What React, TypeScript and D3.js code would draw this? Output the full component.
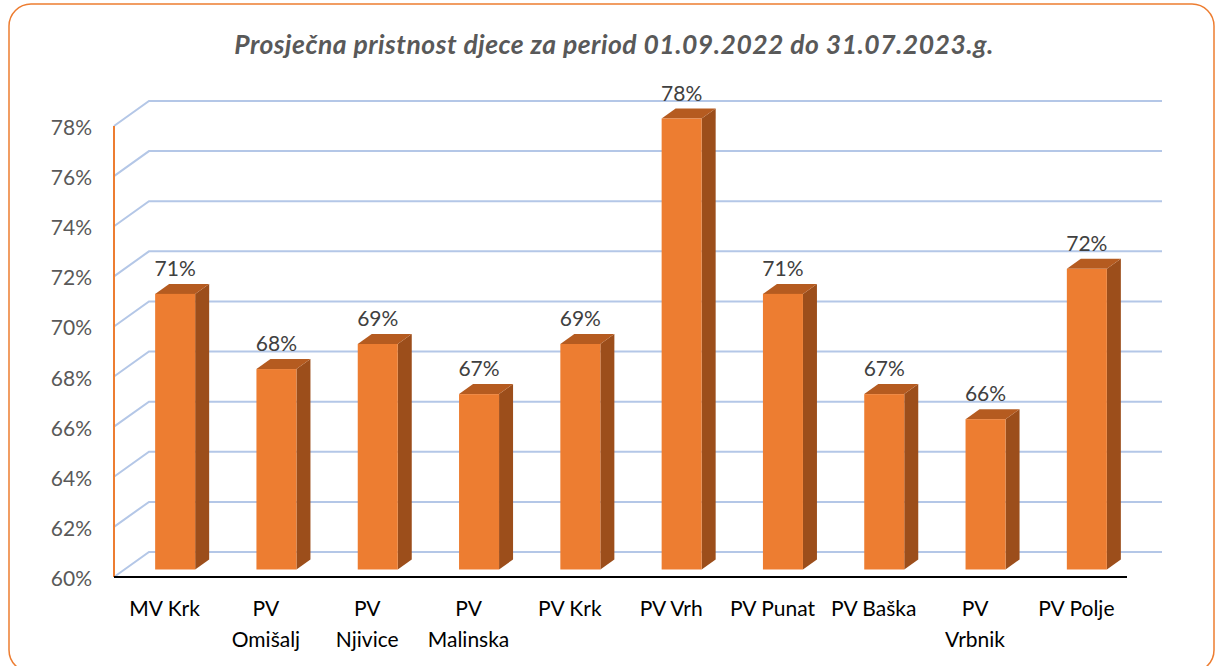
import React from 'react';
import * as d3 from 'd3';

const categories = ['MV Krk', 'PV Omišalj', 'PV Njivice', 'PV Malinska', 'PV Krk', 'PV Vrh', 'PV Punat', 'PV Baška', 'PV Vrbnik', 'PV Polje'];
const values = [71, 68, 69, 67, 69, 78, 71, 67, 66, 72];
const ticks = [60, 62, 64, 66, 68, 70, 72, 74, 76, 78];
const title = 'Prosječna pristnost djece za period 01.09.2022 do 31.07.2023.g.';

const W = 1215;
const H = 666;
const FONT = 'Lato, "Open Sans", sans-serif';

// front plane of the 3d box
const left = 114;
const right = 1127;
const bottom = 577;
const top = 126;
// depth of the back wall
const DX = 35;
const DY = -25;
// bar sits between 30% and 70% of the depth
const bx = DX * 0.3;
const by = DY * 0.3;
const bdx = DX * 0.4;
const bdy = DY * 0.4;

const App = () => {
  const x = d3.scaleBand<string>()
    .domain(categories)
    .range([left, right])
    .paddingInner(0.605)
    .paddingOuter(0.3025);

  const y = d3.scaleLinear()
    .domain([60, 78])
    .range([bottom, top]);

  const bw = x.bandwidth();
  const fmt = (v: number) => `${v}%`;

  const lines = (name: string) => name.length > 8 ? name.split(' ') : [name];

  return (
    <svg width={W} height={H} style={{ position: 'absolute', left: 0, top: 0, background: '#fff' }}>
      <rect x={9} y={4} width={1205} height={668} rx={22} ry={22} fill="#fff" stroke="#ED7D31" strokeWidth={1.5} />

      <text x={614} y={54} textAnchor="middle" fontFamily={FONT} fontSize={26.5} fontWeight="bold" fontStyle="italic" letterSpacing={0.5} fill="#595959">
        {title}
      </text>

      {/* back wall gridlines */}
      <g fill="none" stroke="#B4C7E7" strokeWidth={2}>
        {ticks.map(t => (
          <polyline key={t} points={`${left},${y(t)} ${left + DX},${y(t) + DY} ${right + DX},${y(t) + DY}`} />
        ))}
      </g>

      <line x1={left} x2={left} y1={y(78)} y2={y(60)} stroke="#ED7D31" strokeWidth={2} />

      <g fontFamily={FONT} fontSize={21} fill="#595959" textAnchor="end">
        {ticks.map(t => (
          <text key={t} x={92} y={y(t) + 9}>{fmt(t)}</text>
        ))}
      </g>

      {/* bars */}
      {categories.map((c, i) => {
        const x0 = (x(c) as number) + bx;
        const x1 = x0 + bw;
        const yt = y(values[i]) + by;
        const yb = y(60) + by;
        return (
          <g key={c}>
            <path d={`M${x1},${yt} L${x1 + bdx},${yt + bdy} L${x1 + bdx},${yb + bdy} L${x1},${yb} Z`} fill="#9C4E1B" />
            <path d={`M${x0},${yt} L${x0 + bdx},${yt + bdy} L${x1 + bdx},${yt + bdy} L${x1},${yt} Z`} fill="#B55B20" />
            <rect x={x0} y={yt} width={bw} height={yb - yt} fill="#ED7D31" />
            <text x={x0 + bw / 2} y={yt - 18} textAnchor="middle" fontFamily={FONT} fontSize={21} fill="#404040">
              {fmt(values[i])}
            </text>
          </g>
        );
      })}

      <line x1={left} x2={right} y1={bottom} y2={bottom} stroke="#000" strokeWidth={2} />

      <g fontFamily={FONT} fontSize={21} fill="#000" textAnchor="middle">
        {categories.map(c => (
          <text key={c} x={(x(c) as number) + bw / 2} y={616}>
            {lines(c).map((l, j) => (
              <tspan key={j} x={(x(c) as number) + bw / 2} dy={j === 0 ? 0 : 31}>{l}</tspan>
            ))}
          </text>
        ))}
      </g>
    </svg>
  );
};

export default App;
